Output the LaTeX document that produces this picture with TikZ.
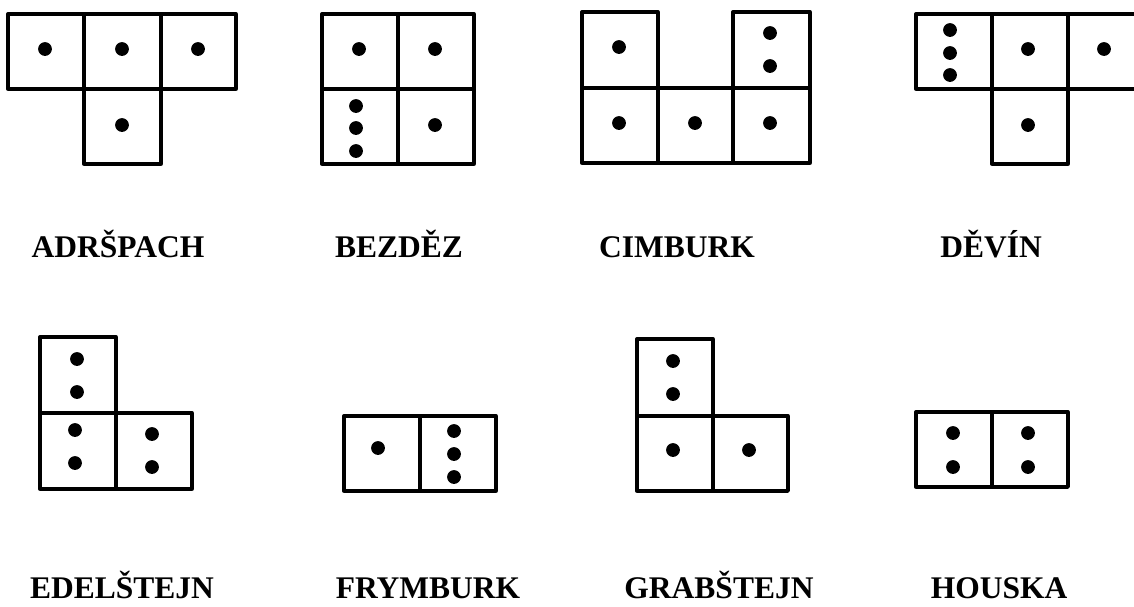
\documentclass[tikz,border=0pt]{standalone}
\usepackage{fontspec}
\setmainfont{Liberation Serif}
\begin{document}
\begin{tikzpicture}[x=1pt,y=-1pt,
  cellbox/.style={draw=black,line width=3.3pt,line join=round,line cap=round},
  pip/.style={fill=black},
  lbl/.style={anchor=base,inner sep=0pt,font=\fontsize{31.5}{36}\selectfont\bfseries}]
\clip (0,0) rectangle (1134,606);
\fill[white] (0,0) rectangle (1134,606);
\def\pr{6.9}
% ADRSPACH
\draw[cellbox] (8,14) rectangle (84,89);
\draw[cellbox] (84,14) rectangle (161,89);
\draw[cellbox] (161,14) rectangle (236,89);
\draw[cellbox] (84,89) rectangle (161,164);
\foreach \p in {(45,49),(122,49),(198,49),(122,125)} \fill[pip] \p circle (\pr);
% BEZDEZ
\draw[cellbox] (322,14) rectangle (398,89);
\draw[cellbox] (398,14) rectangle (474,89);
\draw[cellbox] (322,89) rectangle (398,164);
\draw[cellbox] (398,89) rectangle (474,164);
\foreach \p in {(359,49),(435,49),(435,125),(356,106),(356,128),(356,151)} \fill[pip] \p circle (\pr);
% CIMBURK
\draw[cellbox] (582,12) rectangle (658,88);
\draw[cellbox] (733,12) rectangle (810,88);
\draw[cellbox] (582,88) rectangle (658,163);
\draw[cellbox] (658,88) rectangle (733,163);
\draw[cellbox] (733,88) rectangle (810,163);
\foreach \p in {(619,47),(770,33),(770,66),(619,123),(695,123),(770,123)} \fill[pip] \p circle (\pr);
% DEVIN
\draw[cellbox] (916,14) rectangle (992,89);
\draw[cellbox] (992,14) rectangle (1068,89);
\draw[cellbox] (1068,14) rectangle (1144,89);
\draw[cellbox] (992,89) rectangle (1068,164);
\foreach \p in {(950,30),(950,53),(950,75),(1028,49),(1104,49),(1028,125)} \fill[pip] \p circle (\pr);
% EDELSTEJN
\draw[cellbox] (40,337) rectangle (116,413);
\draw[cellbox] (40,413) rectangle (116,489);
\draw[cellbox] (116,413) rectangle (192,489);
\foreach \p in {(77,359),(77,392),(75,430),(75,463),(152,434),(152,467)} \fill[pip] \p circle (\pr);
% FRYMBURK
\draw[cellbox] (344,416) rectangle (420,491);
\draw[cellbox] (420,416) rectangle (496,491);
\foreach \p in {(378,448),(454,431),(454,454),(454,477)} \fill[pip] \p circle (\pr);
% GRABSTEJN
\draw[cellbox] (637,339) rectangle (713,416);
\draw[cellbox] (637,416) rectangle (713,491);
\draw[cellbox] (713,416) rectangle (788,491);
\foreach \p in {(673,361),(673,394),(673,450),(749,450)} \fill[pip] \p circle (\pr);
% HOUSKA
\draw[cellbox] (916,412) rectangle (992,487);
\draw[cellbox] (992,412) rectangle (1068,487);
\foreach \p in {(953,433),(953,467),(1028,433),(1028,467)} \fill[pip] \p circle (\pr);
% labels
\node[lbl] (adr) at (118,257) {ADRŠPACH};
\node[lbl] (bez) at (399,257) {BEZDĚZ};
\node[lbl] (cim) at (677,257) {CIMBURK};
\node[lbl] (dev) at (991,257) {DĚVÍN};
\node[lbl] (ede) at (122,598) {EDELŠTEJN};
\node[lbl] (fry) at (428,598) {FRYMBURK};
\node[lbl] (gra) at (719,598) {GRABŠTEJN};
\node[lbl] (hou) at (999,598) {HOUSKA};
\end{tikzpicture}
\end{document}
